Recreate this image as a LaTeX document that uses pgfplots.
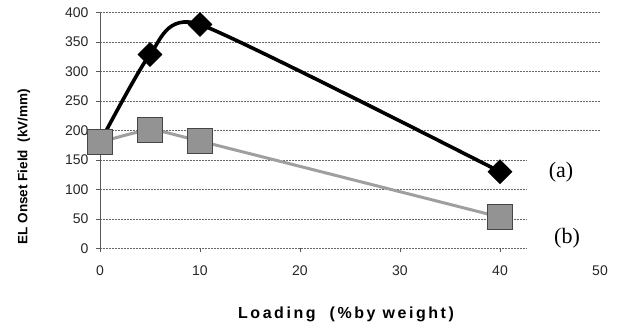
\documentclass[border=0pt]{standalone}
\usepackage{fontspec}
\setmainfont{Liberation Sans}
\newfontfamily\serifab{Liberation Serif}
\newfontfamily\lsfont[LetterSpace=16]{Liberation Sans}
\usepackage{pgfplots}
\pgfplotsset{compat=1.18}
\begin{document}
\begin{tikzpicture}[x=1pt,y=1pt]
\path[use as bounding box] (0,0) rectangle (619,328);
\begin{axis}[
  at={(100pt,79.7pt)}, anchor=south west,
  scale only axis, width=500pt, height=235.6pt,
  xmin=0, xmax=50, ymin=0, ymax=400,
  clip=false,
  axis x line*=bottom, axis y line*=left,
  x axis line style={draw=none},
  y axis line style={draw=gray!70!black, line width=0.8pt, -},
  xtick={0,10,...,50}, ytick={0,50,...,400},
  tick align=outside, major tick length=4pt,
  tick style={draw=gray!70!black, line width=0.6pt},
  ymajorgrids,
  grid style={dash pattern=on 2pt off 1pt, draw=gray!80!black, line width=0.6pt},
  /pgf/number format/assume math mode=true,
  ticklabel style={font=\fontsize{14}{14}\selectfont, text=black!85},
  xticklabel style={yshift=-10pt},
  yticklabel style={xshift=-4pt},
  xlabel={\lsfont\bfseries\fontsize{16}{16}\selectfont Loading\ \ (\%by weight)},
  every axis x label/.style={at={(axis description cs:0.492,0)}, anchor=center, yshift=-66pt},
  ylabel={\bfseries\fontsize{13.5}{13.5}\selectfont EL Onset Field\ \ (kV/mm)},
  every axis y label/.style={at={(axis description cs:-0.152,0.346)}, anchor=center, rotate=90},
]
\fill[white] (axis cs:42.7,-12) rectangle (axis cs:52,172);
\addplot[black, line width=3.6pt, smooth, tension=0.35,
  mark=square*, mark size=8.5pt, mark options={fill=black, solid, line width=0.5pt, rotate=45}]
  coordinates {(0,180) (5,329) (10,380) (40,130)};
\addplot[gray!75, line width=3pt, smooth, tension=0.3,
  mark=square*, mark size=12.5pt, mark options={fill=gray!85, draw=gray!55!black, line width=0.6pt}]
  coordinates {(0,180) (5,201) (10,182) (40,53)};
\node[font=\serifab\fontsize{22}{22}\selectfont] at (axis cs:46.1,130) {(a)};
\node[font=\serifab\fontsize{22}{22}\selectfont] at (axis cs:46.7,17) {(b)};
\end{axis}
\end{tikzpicture}
\end{document}
